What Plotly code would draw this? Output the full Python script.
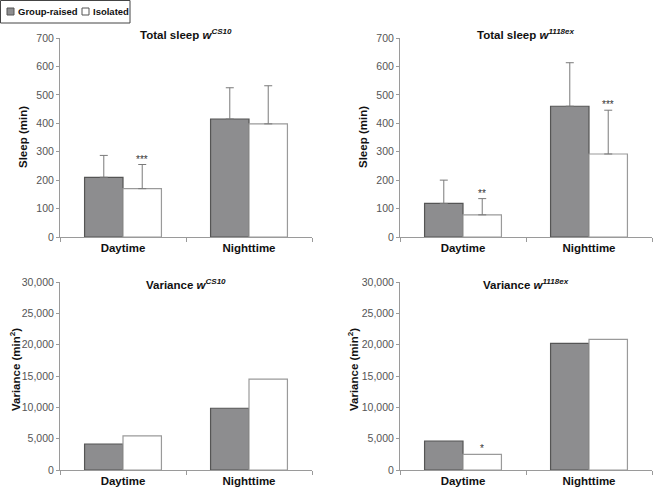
import plotly.graph_objects as go

categories = ["Daytime", "Nighttime"]

# Total sleep (min), wCS10
sleep_cs10_group = [210, 415]
sleep_cs10_group_err = [77, 110]
sleep_cs10_iso = [170, 398]
sleep_cs10_iso_err = [85, 134]

# Total sleep (min), w1118ex
sleep_ex_group = [118, 460]
sleep_ex_group_err = [82, 153]
sleep_ex_iso = [78, 292]
sleep_ex_iso_err = [57, 154]

# Variance (min^2)
var_cs10_group = [4150, 9850]
var_cs10_iso = [5450, 14500]
var_ex_group = [4630, 20200]
var_ex_iso = [2500, 20850]

GROUP_FILL = "#8d8d8f"
GROUP_LINE = "#555555"
ISO_FILL = "#ffffff"
ISO_LINE = "#9a9a9a"
AXIS = "#9a9a9a"
ERR = "#7a7a7a"
FONT = "Liberation Sans Narrow, Arial Narrow, Liberation Sans, Arial, sans-serif"

fig = go.Figure()

def add_pair(xa, ya, g, iso, gerr=None, ierr=None):
    def ebar(err):
        if err is None:
            return None
        return dict(type="data", array=err, arrayminus=[0] * len(err),
                    symmetric=False, color=ERR, thickness=1, width=4)
    fig.add_trace(go.Bar(x=categories, y=g, name="Group-raised", xaxis=xa, yaxis=ya,
                         marker=dict(color=GROUP_FILL, line=dict(color=GROUP_LINE, width=1.2)),
                         error_y=ebar(gerr), showlegend=False, hoverinfo="y"))
    fig.add_trace(go.Bar(x=categories, y=iso, name="Isolated", xaxis=xa, yaxis=ya,
                         marker=dict(color=ISO_FILL, line=dict(color=ISO_LINE, width=1.2)),
                         error_y=ebar(ierr), showlegend=False, hoverinfo="y"))

add_pair("x", "y", sleep_cs10_group, sleep_cs10_iso, sleep_cs10_group_err, sleep_cs10_iso_err)
add_pair("x2", "y2", sleep_ex_group, sleep_ex_iso, sleep_ex_group_err, sleep_ex_iso_err)
add_pair("x3", "y3", var_cs10_group, var_cs10_iso)
add_pair("x4", "y4", var_ex_group, var_ex_iso)

W, H = 653, 487
def px_x(p):
    return p / W
def px_y(p):
    return (H - p) / H

xdom_l = [px_x(60), px_x(312)]
xdom_r = [px_x(400), px_x(652)]
ydom_t = [px_y(237), px_y(38)]
ydom_b = [px_y(470), px_y(282)]

def xax(dom, anchor):
    return dict(domain=dom, anchor=anchor, type="category", showline=True, linecolor=AXIS,
                linewidth=1, ticks="outside", tickson="boundaries", ticklen=4, tickcolor=AXIS,
                showgrid=False, zeroline=False, automargin=False,
                tickvals=categories, ticktext=["<b>%s</b>" % c for c in categories],
                tickfont=dict(family=FONT, size=11.5, color="#111111"), fixedrange=True)

def yax(dom, anchor, rng, dtick, fmt=None):
    d = dict(domain=dom, anchor=anchor, range=rng, dtick=dtick, showline=True, linecolor=AXIS,
             linewidth=1, ticks="outside", ticklen=3, tickcolor=AXIS, showgrid=False,
             zeroline=False, automargin=False,
             tickfont=dict(family=FONT, size=10.5, color="#555555"), fixedrange=True)
    if fmt:
        d["tickformat"] = fmt
    return d

fig.update_layout(
    width=W, height=H,
    margin=dict(l=0, r=0, t=0, b=0),
    paper_bgcolor="white", plot_bgcolor="white",
    barmode="group", bargap=0.39, bargroupgap=0,
    showlegend=False,
    xaxis=xax(xdom_l, "y"), yaxis=yax(ydom_t, "x", [0, 700], 100),
    xaxis2=xax(xdom_r, "y2"), yaxis2=yax(ydom_t, "x2", [0, 700], 100),
    xaxis3=xax(xdom_l, "y3"), yaxis3=yax(ydom_b, "x3", [0, 30000], 5000, ","),
    xaxis4=xax(xdom_r, "y4"), yaxis4=yax(ydom_b, "x4", [0, 30000], 5000, ","),
)

ann = []
# Panel titles
titles = [
    ("x", "<b>Total sleep <i>w</i><sup><i>CS10</i></sup></b>", 34),
    ("x2", "<b>Total sleep <i>w</i><sup><i>1118ex</i></sup></b>", 34),
    ("x3", "<b>Variance <i>w</i><sup><i>CS10</i></sup></b>", 284),
    ("x4", "<b>Variance <i>w</i><sup><i>1118ex</i></sup></b>", 284),
]
for xa, t, ypx in titles:
    ann.append(dict(text=t, xref="%s domain" % xa, x=0.5, yref="paper", y=px_y(ypx),
                    showarrow=False, xanchor="center", yanchor="middle",
                    font=dict(family=FONT, size=11.5, color="#111111")))

# Y axis titles
for xp, yp, t in [(23, 137, "<b>Sleep (min)</b>"), (363, 137, "<b>Sleep (min)</b>"),
                  (15, 370, "<b>Variance (min<sup>2</sup>)</b>"),
                  (353, 370, "<b>Variance (min<sup>2</sup>)</b>")]:
    ann.append(dict(text=t, xref="paper", yref="paper", x=px_x(xp), y=px_y(yp),
                    textangle=-90, showarrow=False, xanchor="center", yanchor="middle",
                    font=dict(family=FONT, size=11.5, color="#111111")))

# Significance stars (above isolated bars)
off = (1 - 0.39) / 4
stars = [
    ("x", "y", 0, sleep_cs10_iso[0] + sleep_cs10_iso_err[0], "***"),
    ("x2", "y2", 0, sleep_ex_iso[0] + sleep_ex_iso_err[0], "**"),
    ("x2", "y2", 1, sleep_ex_iso[1] + sleep_ex_iso_err[1], "***"),
    ("x4", "y4", 0, var_ex_iso[0], "*"),
]
for xa, ya, i, yv, s in stars:
    ann.append(dict(text=s, xref=xa, yref=ya, x=i + off, y=yv, showarrow=False,
                    xanchor="center", yanchor="bottom", yshift=-2,
                    font=dict(family=FONT, size=10, color="#333333")))

# Legend (drawn manually to match compact style)
shapes = [
    dict(type="rect", xref="paper", yref="paper", x0=px_x(0.5), x1=px_x(130), y0=px_y(0.5), y1=px_y(23),
         line=dict(color="#444444", width=1), fillcolor="white"),
    dict(type="rect", xref="paper", yref="paper", x0=px_x(7), x1=px_x(14), y0=px_y(8), y1=px_y(15),
         line=dict(color=GROUP_LINE, width=1), fillcolor=GROUP_FILL),
    dict(type="rect", xref="paper", yref="paper", x0=px_x(82), x1=px_x(89), y0=px_y(8), y1=px_y(15),
         line=dict(color="#555555", width=1), fillcolor="white"),
]
ann.append(dict(text="<b>Group-raised</b>", xref="paper", yref="paper", x=px_x(15.5), y=px_y(11.5),
                showarrow=False, xanchor="left", yanchor="middle",
                font=dict(family=FONT, size=9.5, color="#111111")))
ann.append(dict(text="<b>Isolated</b>", xref="paper", yref="paper", x=px_x(90.5), y=px_y(11.5),
                showarrow=False, xanchor="left", yanchor="middle",
                font=dict(family=FONT, size=9.5, color="#111111")))

fig.update_layout(annotations=ann, shapes=shapes)

fig.write_html("out.html", config={"displayModeBar": False},
               post_script="document.body.style.margin='0px';document.body.style.overflow='hidden';")
